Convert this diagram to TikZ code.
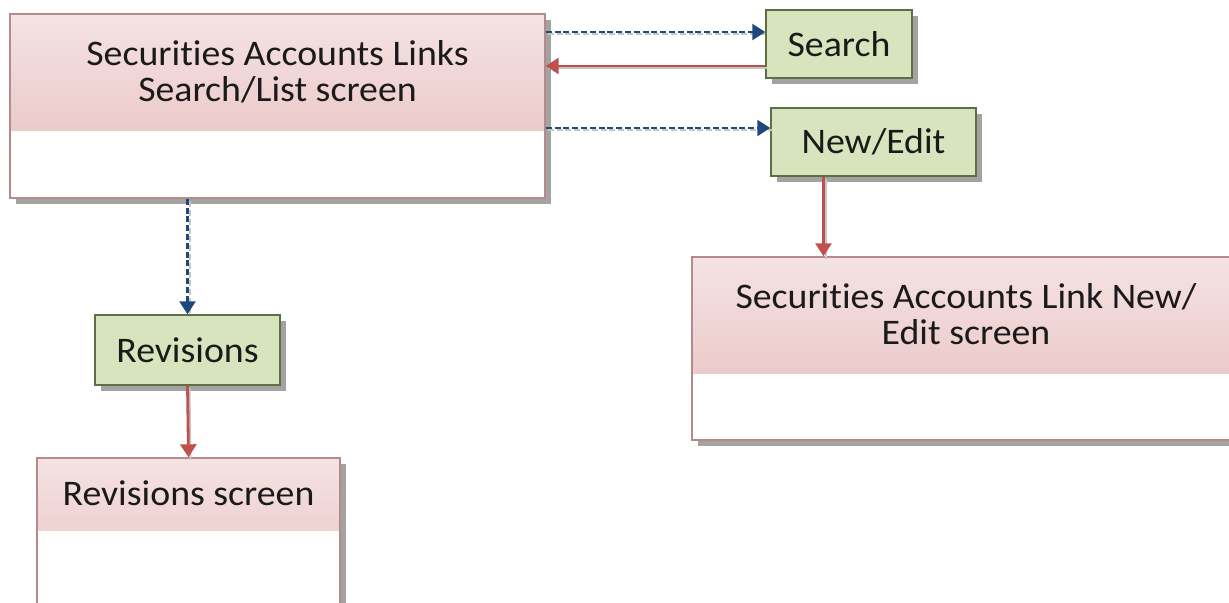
\documentclass[tikz,border=0pt]{standalone}
\usepackage{fontspec}
\setmainfont{Carlito}[FakeStretch=1.05, Ligatures=CommonOff]
\usetikzlibrary{arrows.meta,shadows,calc}
\definecolor{pinkTop}{HTML}{F5E3E3}
\definecolor{pinkBot}{HTML}{E7BCBD}
\definecolor{scrBorder}{HTML}{B48A8B}
\definecolor{greenFill}{HTML}{D7E4BD}
\definecolor{greenBorder}{HTML}{5E6E45}
\definecolor{blueLine}{HTML}{1F497D}
\definecolor{redLine}{HTML}{C0504D}
\definecolor{txt}{HTML}{1A1A1A}
\tikzset{
  screenbox/.style={draw=scrBorder, line width=0.7pt, fill=white, inner sep=0pt,
    drop shadow={shadow xshift=2.8pt, shadow yshift=-2.8pt, fill=gray!80, opacity=0.9},
    path picture={\shade[top color=pinkTop, bottom color=pinkBot]
      (path picture bounding box.north west) rectangle ([yshift=-#1]path picture bounding box.north east);}},
  actbox/.style={draw=greenBorder, line width=0.7pt, fill=greenFill, inner sep=0pt,
    drop shadow={shadow xshift=2.8pt, shadow yshift=-2.8pt, fill=gray!80, opacity=0.9},
    font=\fontsize{18}{18}\selectfont, text=txt},
  headtext/.style={font=\fontsize{18}{18}\selectfont, text=txt, align=center, inner sep=0pt},
  bluearrow/.style={draw=blueLine, line width=1.2pt, dash pattern=on 3pt off 1.4pt,
    -{Triangle[length=6.5pt,width=8pt,fill=blueLine]}},
  redarrow/.style={draw=redLine, line width=1.4pt, -{Triangle[length=6.5pt,width=8pt,fill=redLine]}},
  arrowshadow/.style={draw=gray!45, line width=1pt, transform canvas={xshift=1pt,yshift=-1.2pt}},
}
\begin{document}
\begin{tikzpicture}[x=0.5pt,y=-0.5pt]
\useasboundingbox (0,0) rectangle (1229,602);
\clip (0,0) rectangle (1229,602);
% screen boxes
\node[screenbox=58pt, minimum width=267.5pt, minimum height=92pt] (main) at (277.5,106) {};
\node[headtext] (mainT) at ([yshift=-29pt]main.north) {Securities Accounts Links\\Search/List screen};
\node[screenbox=58pt, minimum width=274pt, minimum height=91.5pt] (nes) at (966,348.5) {};
\node[headtext] (nesT) at ([yshift=-29pt]nes.north) {Securities Accounts Link New/\\Edit screen};
\node[screenbox=36pt, minimum width=151.5pt, minimum height=81pt] (revs) at (188.5,539) {};
\node[headtext] (revsT) at ([yshift=-18pt]revs.north) {Revisions screen};
% action boxes
\node[actbox, minimum width=73pt, minimum height=34pt] (search) at (839,44) {Search};
\node[actbox, minimum width=102.5pt, minimum height=34pt] (newedit) at (873.5,142) {New/Edit};
\node[actbox, minimum width=92.5pt, minimum height=35pt] (rev) at (187.5,350) {Revisions};
% connector points
\coordinate (s1) at ([yshift=6pt]search.west);
\coordinate (s2) at ([yshift=-11pt]search.west);
\coordinate (n1) at ([yshift=7pt]newedit.west);
\coordinate (n2) at ([xshift=-25pt]newedit.south);
% shadows of connectors
\draw[arrowshadow, dash pattern=on 3pt off 1.4pt] (main.east |- s1) -- (s1);
\draw[arrowshadow] (s2) -- (main.east |- s2);
\draw[arrowshadow, dash pattern=on 3pt off 1.4pt] (main.east |- n1) -- (n1);
\draw[arrowshadow] (n2) -- (n2 |- nes.north);
\draw[arrowshadow, dash pattern=on 3pt off 1.4pt] (rev.north |- main.south) -- (rev.north);
\draw[arrowshadow] (rev.south) -- (revs.north);
% connectors
\draw[bluearrow] (main.east |- s1) -- (s1);
\draw[redarrow] (s2) -- (main.east |- s2);
\draw[bluearrow] (main.east |- n1) -- (n1);
\draw[redarrow] (n2) -- (n2 |- nes.north);
\draw[bluearrow] (rev.north |- main.south) -- (rev.north);
\draw[redarrow] (rev.south) -- (revs.north);
\end{tikzpicture}
\end{document}
